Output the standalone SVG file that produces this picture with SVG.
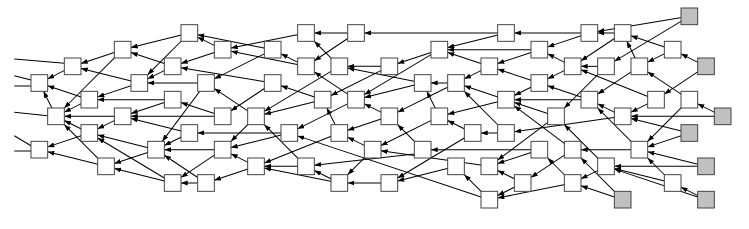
<svg xmlns="http://www.w3.org/2000/svg" width="749" height="229" viewBox="0 0 749 229">
<style>
.n rect{fill:#fff;stroke:#444;stroke-width:0.06}
.n.g rect{fill:#c0c0c0}
#edges line{stroke:#000;stroke-width:0.06;marker-end:url(#a)}
#edges line.o{marker-end:none}
</style>
<rect width="749" height="229" fill="#fff"/>
<g transform="translate(39.333 16.333) scale(16.6667)">
<defs>
<marker id="a" markerUnits="userSpaceOnUse" markerWidth="0.4" markerHeight="0.3" viewBox="0 0 8 6" refX="8" refY="3" orient="auto"><path d="M0,0 L8,3 L0,6 z" fill="#000"/></marker>
</defs>
<g id="edges">
<line class="o" x1="-1.502" y1="2.56" x2="1.5" y2="2.818"/>
<line class="o" x1="-1.502" y1="3.562" x2="-0.5" y2="3.82"/>
<line class="o" x1="-1.502" y1="4.18" x2="-0.5" y2="4.18"/>
<line class="o" x1="-1.502" y1="5.758" x2="0.5" y2="5.962"/>
<line class="o" x1="-1.502" y1="7.162" x2="-0.5" y2="7.762"/>
<line class="o" x1="-1.502" y1="8.08" x2="-0.5" y2="8.08"/>
<line x1="5" y1="2" x2="2.5" y2="2.833"/>
<line x1="5" y1="2" x2="1.5" y2="5.5"/>
<line x1="6" y1="4" x2="2.5" y2="3.125"/>
<line x1="2" y1="3" x2="0.5" y2="3.75"/>
<line x1="3" y1="5" x2="0.5" y2="4.167"/>
<line x1="1" y1="6" x2="0.25" y2="4.5"/>
<line x1="6" y1="4" x2="3.5" y2="4.833"/>
<line x1="8" y1="5" x2="3.5" y2="5"/>
<line x1="3" y1="5" x2="1.5" y2="5.75"/>
<line x1="5" y1="6" x2="1.5" y2="6"/>
<line x1="3" y1="7" x2="1.5" y2="6.25"/>
<line x1="4" y1="9" x2="1.5" y2="6.5"/>
<line x1="5" y1="6" x2="3.5" y2="6.75"/>
<line x1="7" y1="8" x2="3.5" y2="7.125"/>
<line x1="8" y1="10" x2="3.5" y2="7.3"/>
<line x1="3" y1="7" x2="0.5" y2="7.833"/>
<line x1="4" y1="9" x2="0.5" y2="8.125"/>
<line x1="7" y1="8" x2="4.5" y2="8.833"/>
<line x1="8" y1="10" x2="4.5" y2="9.125"/>
<line x1="9" y1="1" x2="5.5" y2="1.875"/>
<line x1="9" y1="1" x2="6.5" y2="3.5"/>
<line x1="14" y1="2" x2="9.5" y2="1.1"/>
<line x1="11" y1="2" x2="9.5" y2="1.25"/>
<line x1="16" y1="1" x2="11.5" y2="1.9"/>
<line x1="16" y1="3" x2="11.5" y2="2.1"/>
<line x1="11" y1="2" x2="8.5" y2="2.833"/>
<line x1="8" y1="3" x2="6.5" y2="3.75"/>
<line x1="8" y1="3" x2="5.5" y2="2.167"/>
<line x1="10" y1="4" x2="6.5" y2="4"/>
<line x1="14" y1="4" x2="8.5" y2="3.083"/>
<line x1="14" y1="2" x2="10.5" y2="3.75"/>
<line x1="10" y1="4" x2="7.375" y2="7.5"/>
<line x1="11" y1="6" x2="8.5" y2="5.167"/>
<line x1="28" y1="1" x2="19.5" y2="1"/>
<line x1="19" y1="1" x2="16.5" y2="1"/>
<line x1="19" y1="1" x2="16.5" y2="2.667"/>
<line x1="16" y1="3" x2="14.5" y2="2.25"/>
<line x1="21" y1="3" x2="18.5" y2="3"/>
<line x1="23" y1="4" x2="18.5" y2="3.1"/>
<line x1="17" y1="5" x2="14.5" y2="4.167"/>
<line x1="21" y1="3" x2="17.5" y2="4.75"/>
<line x1="24" y1="2" x2="19.5" y2="4.7"/>
<line x1="23" y1="4" x2="19.5" y2="4.875"/>
<line x1="18" y1="3" x2="13.5" y2="5.7"/>
<line x1="17" y1="5" x2="13.5" y2="5.875"/>
<line x1="24" y1="2" x2="21.5" y2="2.833"/>
<line x1="18" y1="7" x2="17.25" y2="5.5"/>
<line x1="21" y1="6" x2="19.5" y2="5.25"/>
<line x1="19" y1="5" x2="15.5" y2="6.75"/>
<line x1="18" y1="3" x2="16.5" y2="1.5"/>
<line x1="19" y1="5" x2="16.5" y2="3.333"/>
<line x1="15" y1="7" x2="9.5" y2="7"/>
<line x1="15" y1="7" x2="11.5" y2="7.875"/>
<line x1="27" y1="11" x2="15.5" y2="7.174"/>
<line x1="22.5" y1="8.26" x2="16.5" y2="8.93"/>
<line x1="30" y1="8" x2="23.5" y2="8"/>
<line x1="8" y1="5" x2="5.5" y2="5.833"/>
<line x1="11" y1="6" x2="5.5" y2="6"/>
<line x1="9" y1="7" x2="5.5" y2="6.125"/>
<line x1="9" y1="7" x2="7.5" y2="7.75"/>
<line x1="13" y1="6" x2="11.5" y2="7.5"/>
<line x1="11" y1="8" x2="7.5" y2="8"/>
<line x1="11" y1="8" x2="8.5" y2="9.667"/>
<line x1="13" y1="9" x2="11.5" y2="8.25"/>
<line x1="10" y1="10" x2="8.5" y2="10"/>
<line x1="13" y1="9" x2="10.5" y2="9.833"/>
<line x1="10" y1="10" x2="7.5" y2="8.333"/>
<line x1="14" y1="4" x2="11.5" y2="5.667"/>
<line x1="13" y1="6" x2="10.5" y2="4.333"/>
<line x1="28" y1="1" x2="24.5" y2="1.875"/>
<line x1="30" y1="2" x2="24.5" y2="2"/>
<line x1="27" y1="3" x2="24.5" y2="2.167"/>
<line x1="30" y1="2" x2="27.5" y2="2.833"/>
<line x1="30" y1="4" x2="27.5" y2="3.167"/>
<line x1="27" y1="3" x2="25.5" y2="3.75"/>
<line x1="25" y1="4" x2="23.5" y2="4"/>
<line x1="25" y1="4" x2="21.5" y2="5.75"/>
<line x1="24" y1="6" x2="23.25" y2="4.5"/>
<line x1="28" y1="7" x2="25.5" y2="4.5"/>
<line x1="28" y1="5" x2="25.5" y2="4.167"/>
<line x1="28" y1="5" x2="24.5" y2="5.875"/>
<line x1="26" y1="7" x2="24.5" y2="6.25"/>
<line x1="28" y1="7" x2="26.5" y2="7"/>
<line x1="26" y1="7" x2="21.5" y2="9.7"/>
<line x1="25" y1="9" x2="21.5" y2="9.875"/>
<line x1="23" y1="8" x2="21.5" y2="6.5"/>
<line x1="32" y1="8" x2="28.5" y2="5.375"/>
<line x1="31" y1="6" x2="28.5" y2="5.167"/>
<line x1="33" y1="5" x2="28.5" y2="5"/>
<line x1="30" y1="4" x2="28.5" y2="4.75"/>
<line x1="33" y1="5" x2="30.5" y2="4.167"/>
<line x1="32" y1="3" x2="30.5" y2="3.75"/>
<line x1="32" y1="3" x2="30.5" y2="2.25"/>
<line x1="33" y1="1" x2="30.5" y2="1.833"/>
<line x1="33" y1="1" x2="28.5" y2="1"/>
<line x1="34" y1="3" x2="32.5" y2="3"/>
<line x1="37" y1="5" x2="32.5" y2="3.2"/>
<line x1="34" y1="3" x2="31.5" y2="5.5"/>
<line x1="31" y1="6" x2="27.5" y2="8.625"/>
<line x1="30" y1="8" x2="27.5" y2="8.833"/>
<line x1="29" y1="10" x2="27.5" y2="9.25"/>
<line x1="29" y1="10" x2="27.5" y2="10.75"/>
<line x1="32" y1="10" x2="27.5" y2="10.9"/>
<line x1="27" y1="11" x2="25.5" y2="9.5"/>
<line x1="32" y1="8" x2="29.5" y2="9.667"/>
<line x1="32" y1="10" x2="30.5" y2="8.5"/>
<line x1="36" y1="8" x2="32.5" y2="8"/>
<line x1="35" y1="11" x2="32.5" y2="8.5"/>
<line x1="35" y1="11" x2="32.5" y2="10.167"/>
<line x1="34" y1="9" x2="32.5" y2="9.75"/>
<line x1="34" y1="9" x2="31.5" y2="6.5"/>
<line x1="39" y1="0" x2="33.5" y2="0.917"/>
<line x1="35" y1="1" x2="33.5" y2="1"/>
<line x1="39" y1="0" x2="34.5" y2="2.7"/>
<line x1="38" y1="2" x2="35.5" y2="1.167"/>
<line x1="36" y1="3" x2="35.25" y2="1.5"/>
<line x1="38" y1="2" x2="36.5" y2="2.75"/>
<line x1="40" y1="3" x2="38.5" y2="2.25"/>
<line x1="40" y1="3" x2="37.5" y2="4.667"/>
<line x1="39" y1="5" x2="36.5" y2="3.333"/>
<line x1="36" y1="3" x2="33.5" y2="4.667"/>
<line x1="41" y1="6" x2="39.5" y2="5.25"/>
<line x1="39" y1="5" x2="36.5" y2="7.5"/>
<line x1="37" y1="5" x2="35.5" y2="5.75"/>
<line x1="41" y1="6" x2="35.5" y2="6"/>
<line x1="39" y1="7" x2="35.5" y2="6.125"/>
<line x1="39" y1="7" x2="36.5" y2="7.833"/>
<line x1="40" y1="9" x2="36.5" y2="8.125"/>
<line x1="38" y1="10" x2="36.5" y2="8.5"/>
<line x1="38" y1="10" x2="34.5" y2="9.125"/>
<line x1="40" y1="9" x2="34.5" y2="9"/>
<line x1="40" y1="11" x2="34.5" y2="9.167"/>
<line x1="40" y1="11" x2="38.5" y2="10.25"/>
<line x1="36" y1="8" x2="33.5" y2="5.5"/>
<line x1="35" y1="6" x2="33.5" y2="5.25"/>
<line x1="35" y1="6" x2="28.5" y2="6.929"/>
<line x1="35" y1="1" x2="32.5" y2="2.667"/>
<line x1="27" y1="9" x2="20.5" y2="8.071"/>
<line x1="24" y1="6" x2="20.5" y2="7.75"/>
<line x1="20" y1="8" x2="18.5" y2="7.25"/>
<line x1="20" y1="8" x2="18.5" y2="9.5"/>
<line x1="21" y1="6" x2="18.5" y2="6.833"/>
<line x1="18" y1="7" x2="13.5" y2="8.8"/>
<line x1="16" y1="9" x2="13.5" y2="9"/>
<line x1="18" y1="10" x2="13.5" y2="9.1"/>
<line x1="18" y1="10" x2="16.5" y2="9.25"/>
<line x1="21" y1="10" x2="18.5" y2="10"/>
<line x1="16" y1="9" x2="13.5" y2="6.5"/>
</g>
<g id="nodes">
<g id="n0_4" class="n"><rect x="-0.5" y="3.5" width="1" height="1"/></g>
<g id="n0_8" class="n"><rect x="-0.5" y="7.5" width="1" height="1"/></g>
<g id="n1_6" class="n"><rect x="0.5" y="5.5" width="1" height="1"/></g>
<g id="n2_3" class="n"><rect x="1.5" y="2.5" width="1" height="1"/></g>
<g id="n3_5" class="n"><rect x="2.5" y="4.5" width="1" height="1"/></g>
<g id="n3_7" class="n"><rect x="2.5" y="6.5" width="1" height="1"/></g>
<g id="n4_9" class="n"><rect x="3.5" y="8.5" width="1" height="1"/></g>
<g id="n5_2" class="n"><rect x="4.5" y="1.5" width="1" height="1"/></g>
<g id="n5_6" class="n"><rect x="4.5" y="5.5" width="1" height="1"/></g>
<g id="n6_4" class="n"><rect x="5.5" y="3.5" width="1" height="1"/></g>
<g id="n7_8" class="n"><rect x="6.5" y="7.5" width="1" height="1"/></g>
<g id="n8_3" class="n"><rect x="7.5" y="2.5" width="1" height="1"/></g>
<g id="n8_5" class="n"><rect x="7.5" y="4.5" width="1" height="1"/></g>
<g id="n8_10" class="n"><rect x="7.5" y="9.5" width="1" height="1"/></g>
<g id="n9_1" class="n"><rect x="8.5" y="0.5" width="1" height="1"/></g>
<g id="n9_7" class="n"><rect x="8.5" y="6.5" width="1" height="1"/></g>
<g id="n10_4" class="n"><rect x="9.5" y="3.5" width="1" height="1"/></g>
<g id="n10_10" class="n"><rect x="9.5" y="9.5" width="1" height="1"/></g>
<g id="n11_2" class="n"><rect x="10.5" y="1.5" width="1" height="1"/></g>
<g id="n11_6" class="n"><rect x="10.5" y="5.5" width="1" height="1"/></g>
<g id="n11_8" class="n"><rect x="10.5" y="7.5" width="1" height="1"/></g>
<g id="n13_6" class="n"><rect x="12.5" y="5.5" width="1" height="1"/></g>
<g id="n13_9" class="n"><rect x="12.5" y="8.5" width="1" height="1"/></g>
<g id="n14_2" class="n"><rect x="13.5" y="1.5" width="1" height="1"/></g>
<g id="n14_4" class="n"><rect x="13.5" y="3.5" width="1" height="1"/></g>
<g id="n15_7" class="n"><rect x="14.5" y="6.5" width="1" height="1"/></g>
<g id="n16_1" class="n"><rect x="15.5" y="0.5" width="1" height="1"/></g>
<g id="n16_3" class="n"><rect x="15.5" y="2.5" width="1" height="1"/></g>
<g id="n16_9" class="n"><rect x="15.5" y="8.5" width="1" height="1"/></g>
<g id="n17_5" class="n"><rect x="16.5" y="4.5" width="1" height="1"/></g>
<g id="n18_3" class="n"><rect x="17.5" y="2.5" width="1" height="1"/></g>
<g id="n18_7" class="n"><rect x="17.5" y="6.5" width="1" height="1"/></g>
<g id="n18_10" class="n"><rect x="17.5" y="9.5" width="1" height="1"/></g>
<g id="n19_1" class="n"><rect x="18.5" y="0.5" width="1" height="1"/></g>
<g id="n19_5" class="n"><rect x="18.5" y="4.5" width="1" height="1"/></g>
<g id="n20_8" class="n"><rect x="19.5" y="7.5" width="1" height="1"/></g>
<g id="n21_3" class="n"><rect x="20.5" y="2.5" width="1" height="1"/></g>
<g id="n21_6" class="n"><rect x="20.5" y="5.5" width="1" height="1"/></g>
<g id="n21_10" class="n"><rect x="20.5" y="9.5" width="1" height="1"/></g>
<g id="n23_4" class="n"><rect x="22.5" y="3.5" width="1" height="1"/></g>
<g id="n23_8" class="n"><rect x="22.5" y="7.5" width="1" height="1"/></g>
<g id="n24_2" class="n"><rect x="23.5" y="1.5" width="1" height="1"/></g>
<g id="n24_6" class="n"><rect x="23.5" y="5.5" width="1" height="1"/></g>
<g id="n25_4" class="n"><rect x="24.5" y="3.5" width="1" height="1"/></g>
<g id="n25_9" class="n"><rect x="24.5" y="8.5" width="1" height="1"/></g>
<g id="n26_7" class="n"><rect x="25.5" y="6.5" width="1" height="1"/></g>
<g id="n27_3" class="n"><rect x="26.5" y="2.5" width="1" height="1"/></g>
<g id="n27_9" class="n"><rect x="26.5" y="8.5" width="1" height="1"/></g>
<g id="n27_11" class="n"><rect x="26.5" y="10.5" width="1" height="1"/></g>
<g id="n28_1" class="n"><rect x="27.5" y="0.5" width="1" height="1"/></g>
<g id="n28_5" class="n"><rect x="27.5" y="4.5" width="1" height="1"/></g>
<g id="n28_7" class="n"><rect x="27.5" y="6.5" width="1" height="1"/></g>
<g id="n29_10" class="n"><rect x="28.5" y="9.5" width="1" height="1"/></g>
<g id="n30_2" class="n"><rect x="29.5" y="1.5" width="1" height="1"/></g>
<g id="n30_4" class="n"><rect x="29.5" y="3.5" width="1" height="1"/></g>
<g id="n30_8" class="n"><rect x="29.5" y="7.5" width="1" height="1"/></g>
<g id="n31_6" class="n"><rect x="30.5" y="5.5" width="1" height="1"/></g>
<g id="n32_3" class="n"><rect x="31.5" y="2.5" width="1" height="1"/></g>
<g id="n32_8" class="n"><rect x="31.5" y="7.5" width="1" height="1"/></g>
<g id="n32_10" class="n"><rect x="31.5" y="9.5" width="1" height="1"/></g>
<g id="n33_1" class="n"><rect x="32.5" y="0.5" width="1" height="1"/></g>
<g id="n33_5" class="n"><rect x="32.5" y="4.5" width="1" height="1"/></g>
<g id="n34_3" class="n"><rect x="33.5" y="2.5" width="1" height="1"/></g>
<g id="n34_9" class="n"><rect x="33.5" y="8.5" width="1" height="1"/></g>
<g id="n35_1" class="n"><rect x="34.5" y="0.5" width="1" height="1"/></g>
<g id="n35_6" class="n"><rect x="34.5" y="5.5" width="1" height="1"/></g>
<g id="n35_11" class="n g"><rect x="34.5" y="10.5" width="1" height="1"/></g>
<g id="n36_3" class="n"><rect x="35.5" y="2.5" width="1" height="1"/></g>
<g id="n36_8" class="n"><rect x="35.5" y="7.5" width="1" height="1"/></g>
<g id="n37_5" class="n"><rect x="36.5" y="4.5" width="1" height="1"/></g>
<g id="n38_2" class="n"><rect x="37.5" y="1.5" width="1" height="1"/></g>
<g id="n38_10" class="n"><rect x="37.5" y="9.5" width="1" height="1"/></g>
<g id="n39_0" class="n g"><rect x="38.5" y="-0.5" width="1" height="1"/></g>
<g id="n39_5" class="n"><rect x="38.5" y="4.5" width="1" height="1"/></g>
<g id="n39_7" class="n g"><rect x="38.5" y="6.5" width="1" height="1"/></g>
<g id="n40_3" class="n g"><rect x="39.5" y="2.5" width="1" height="1"/></g>
<g id="n40_9" class="n g"><rect x="39.5" y="8.5" width="1" height="1"/></g>
<g id="n40_11" class="n g"><rect x="39.5" y="10.5" width="1" height="1"/></g>
<g id="n41_6" class="n g"><rect x="40.5" y="5.5" width="1" height="1"/></g>
</g>
</g>
</svg>
